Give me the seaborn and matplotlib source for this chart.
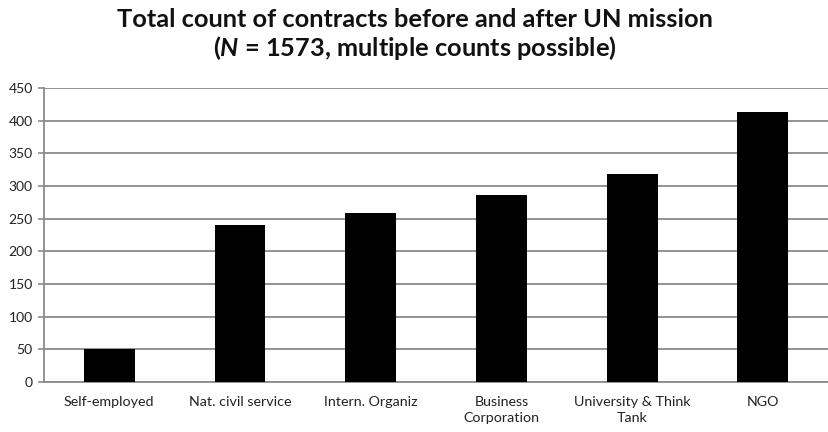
import matplotlib
matplotlib.use("Agg")
import matplotlib.pyplot as plt
import seaborn as sns
import pandas as pd

categories = ["Self-employed", "Nat. civil service", "Intern. Organiz",
              "Business\nCorporation", "University & Think\nTank", "NGO"]
counts = [51, 241, 258, 287, 318, 414]
yticks = [0, 50, 100, 150, 200, 250, 300, 350, 400, 450]

sns.set_theme(style="white")
plt.rcParams['font.family'] = ['Lato', 'DejaVu Sans']
plt.rcParams['mathtext.fontset'] = 'custom'
plt.rcParams['mathtext.bfit'] = 'Lato:bold:italic'
plt.rcParams['mathtext.it'] = 'Lato:italic'
plt.rcParams['mathtext.rm'] = 'Lato'
plt.rcParams['mathtext.bf'] = 'Lato:bold'

df = pd.DataFrame({"category": categories, "count": counts})

fig = plt.figure(figsize=(8.29, 4.32), dpi=100)
ax = fig.add_axes([0.053, 0.116, 0.946, 0.68])

sns.barplot(data=df, x="category", y="count", color="black", width=0.39,
            saturation=1, ax=ax, zorder=3, edgecolor="black", linewidth=0)

grid_c = "#8a8a8a"
ax.set_ylim(0, 450)
ax.set_xlim(-0.5, len(categories) - 0.5)
ax.set_yticks(yticks)
ax.set_yticklabels([str(v) for v in yticks], fontsize=10, color="#222222")
ax.yaxis.grid(True, color=grid_c, linewidth=1.3, zorder=0)
ax.set_axisbelow(True)
ax.set_xlabel("")
ax.set_ylabel("")

ax.set_xticks(range(len(categories)))
ax.set_xticklabels(categories, fontsize=10.3, color="#222222", linespacing=1.45)
ax.tick_params(axis="x", length=0, pad=10)
ax.set_xticks([i + 0.5 for i in range(-1, len(categories))], minor=True)
ax.tick_params(axis="x", which="minor", length=4, color=grid_c, width=1.2)
ax.tick_params(axis="y", length=4, color=grid_c, width=1.2, pad=4, left=True)

for s in ["top", "right"]:
    ax.spines[s].set_visible(False)
for s in ["left", "bottom"]:
    ax.spines[s].set_color(grid_c)
    ax.spines[s].set_linewidth(1.3)

fig.text(0.5, 0.955, "Total count of contracts before and after UN mission",
         ha="center", va="center", fontsize=18.3, fontweight="bold", color="#111111")
fig.text(0.5, 0.888, r"($\mathbfit{N}$ = 1573, multiple counts possible)",
         ha="center", va="center", fontsize=18.3, fontweight="bold", color="#111111")

fig.savefig("out.png", dpi=100)
